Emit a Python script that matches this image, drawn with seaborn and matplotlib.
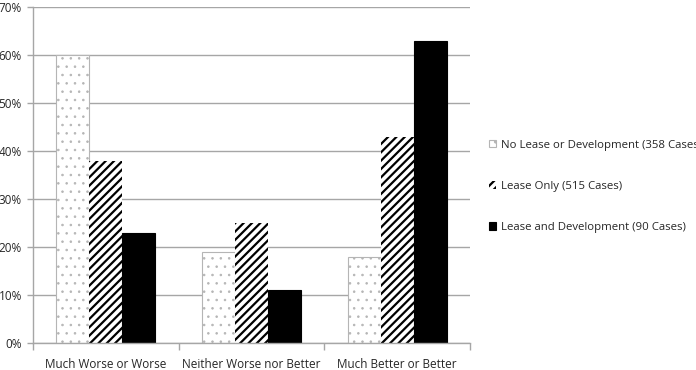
import pandas as pd
import matplotlib.pyplot as plt
import seaborn as sns
from matplotlib.ticker import PercentFormatter, FixedLocator
from matplotlib.patches import Patch

categories = ['Much Worse or Worse', 'Neither Worse nor Better', 'Much Better or Better']
groups = ['No Lease or Development (358 Cases)', 'Lease Only (515 Cases)',
          'Lease and Development (90 Cases)']
no_lease = [60, 19, 18]
lease_only = [38, 25, 43]
lease_dev = [23, 11, 63]

df = pd.DataFrame({
    'category': categories * 3,
    'group': [groups[0]] * 3 + [groups[1]] * 3 + [groups[2]] * 3,
    'value': no_lease + lease_only + lease_dev,
})

sns.set_style('white')
plt.rcParams['font.family'] = ['Open Sans', 'DejaVu Sans']
plt.rcParams['hatch.linewidth'] = 1.6

fig = plt.figure(figsize=(6.96, 3.70), dpi=100)
ax = fig.add_axes([33 / 696, 1 - 343 / 370, 437 / 696, 336 / 370])

sns.barplot(data=df, x='category', y='value', hue='group', order=categories,
            hue_order=groups, width=0.68, ax=ax, legend=False, errorbar=None)

styles = [
    dict(facecolor='white', edgecolor='#b5b5b5', hatch='..', linewidth=0.8, hlw=0.6),
    dict(facecolor='white', edgecolor='black', hatch='////', linewidth=0, hlw=1.6),
    dict(facecolor='black', edgecolor='black', hatch=None, linewidth=0.8, hlw=1.6),
]


def style_patch(p, st):
    p.set_facecolor(st['facecolor'])
    p.set_edgecolor(st['edgecolor'])
    p.set_hatch(st['hatch'])
    p.set_linewidth(st['linewidth'])
    if hasattr(p, 'set_hatch_linewidth'):
        p.set_hatch_linewidth(st['hlw'])


for cont, st in zip(ax.containers, styles):
    for bar in cont:
        style_patch(bar, st)

ax.set_ylim(0, 70)
ax.set_xlim(-0.5, 2.5)
ax.set_yticks(range(0, 71, 10))
ax.yaxis.set_major_formatter(PercentFormatter(decimals=0))
ax.yaxis.grid(True, color='#a6a6a6', linewidth=1)
ax.set_axisbelow(True)
ax.set_xlabel('')
ax.set_ylabel('')
for side in ['top', 'right']:
    ax.spines[side].set_visible(False)
for side in ['left', 'bottom']:
    ax.spines[side].set_color('#a6a6a6')
    ax.spines[side].set_linewidth(1)

ax.tick_params(axis='y', which='major', left=True, length=4, width=1,
               color='#a6a6a6', pad=4, labelsize=8.5)
ax.tick_params(axis='x', which='major', bottom=False, labelsize=8.5, pad=7)
ax.xaxis.set_minor_locator(FixedLocator([-0.5, 0.5, 1.5, 2.5]))
ax.tick_params(axis='x', which='minor', bottom=True, length=5, width=1,
               color='#a6a6a6')

handles = []
for st in styles:
    h = Patch()
    style_patch(h, st)
    handles.append(h)
fig.legend(handles, groups, loc='upper left', bbox_to_anchor=(484 / 696, 1 - 135 / 370),
           frameon=False, fontsize=8.2, handlelength=0.65, handleheight=0.65,
           handletextpad=0.4, labelspacing=2.65, borderaxespad=0)

fig.savefig('out.png', dpi=100)
